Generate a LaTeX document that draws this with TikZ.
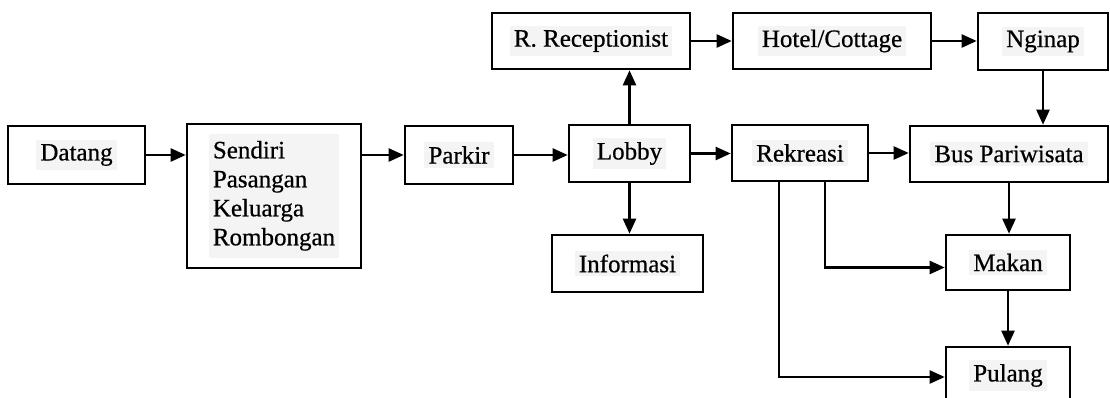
\documentclass[tikz,border=0pt]{standalone}
\usepackage{fontspec}
\setmainfont[FakeBold=0.6]{Liberation Serif}
\usetikzlibrary{arrows.meta}
\newcommand\scanhl[1]{\colorbox{gray!9}{#1}}
\setlength{\fboxsep}{4pt}
\begin{document}
\begin{tikzpicture}[x=1pt,y=-1pt,
  box/.style={draw, line width=2.6pt, rectangle, inner sep=0pt, text=black,
    font=\fontsize{25}{29}\selectfont},
  arr/.style={line width=2.3pt, -{Triangle[length=15pt,width=13pt]}}]
\useasboundingbox (0,0) rectangle (1110,398);
\clip (0,0) rectangle (1110,398);
% row 2
\node[box, minimum width=137pt, minimum height=58pt] (datang) at (76.5,155) {\scanhl{Datang}};
\node[box, minimum width=174pt, minimum height=144pt] (sendiri) at (274,196)
  {\scanhl{\begin{tabular}{@{}l@{}}Sendiri\\Pasangan\\Keluarga\\Rombongan\end{tabular}}};
\node[box, minimum width=108pt, minimum height=58pt] (parkir) at (459,155) {\scanhl{Parkir}};
\node[box, minimum width=121pt, minimum height=57pt] (lobby) at (629.5,153.5) {\scanhl{Lobby}};
\node[box, minimum width=136pt, minimum height=56pt] (rekreasi) at (800,153) {\scanhl{Rekreasi}};
\node[box, minimum width=198pt, minimum height=56pt] (bus) at (1009,154) {\scanhl{Bus Pariwisata}};
% row 1
\node[box, minimum width=198pt, minimum height=56pt] (recept) at (591,41) {\scanhl{R. Receptionist}};
\node[box, minimum width=198pt, minimum height=56pt] (hotel) at (832,41) {\scanhl{Hotel/Cottage}};
\node[box, minimum width=130pt, minimum height=57pt] (nginap) at (1043,41.5) {\scanhl{Nginap}};
% lower rows
\node[box, minimum width=151pt, minimum height=57pt] (info) at (627.5,263.5) {\scanhl{Informasi}};
\node[box, minimum width=124pt, minimum height=55pt] (makan) at (1008,262.5) {\scanhl{Makan}};
\node[box, minimum width=124pt, minimum height=57pt] (pulang) at (1008,375.5) {\scanhl{Pulang}};
% connectors
\draw[arr] (datang.east) -- (datang.east -| sendiri.west);
\draw[arr] (sendiri.east |- parkir.west) -- (parkir.west);
\draw[arr] (parkir.east) -- (parkir.east -| lobby.west);
\draw[arr] (lobby.east) -- (lobby.east -| rekreasi.west);
\draw[arr] (rekreasi.east) -- (rekreasi.east -| bus.west);
\draw[arr] (lobby.north) -- (lobby.north |- recept.south);
\draw[arr] (lobby.south) -- (lobby.south |- info.north);
\draw[arr] (recept.east) -- (recept.east -| hotel.west);
\draw[arr] (hotel.east) -- (hotel.east -| nginap.west);
\draw[arr] (nginap.south) -- (nginap.south |- bus.north);
\draw[arr] (bus.south) -- (bus.south |- makan.north);
\draw[arr] (makan.south) -- (makan.south |- pulang.north);
\draw[arr] ([xshift=25pt]rekreasi.south) |- ([yshift=-5pt]makan.west);
\draw[arr] ([xshift=-21pt]rekreasi.south) |- ([yshift=-1.5pt]pulang.west);
\end{tikzpicture}
\end{document}
